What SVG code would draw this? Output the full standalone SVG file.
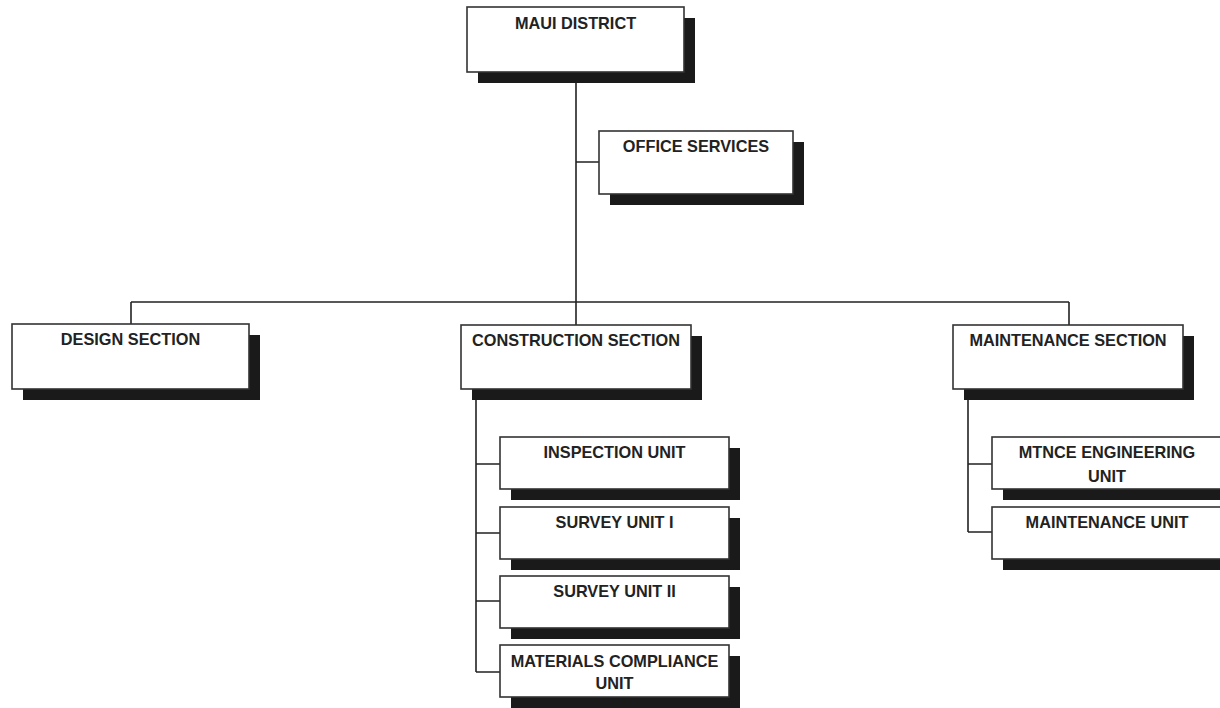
<svg xmlns="http://www.w3.org/2000/svg" width="1220" height="708" viewBox="0 0 1220 708">
<style>
.sh{fill:#1a1a1a;}
.bx{fill:#fff;stroke:#333;stroke-width:1.6;}
.t{font-family:"Liberation Sans",Arial,sans-serif;font-weight:bold;font-size:16.3px;fill:#222;text-anchor:middle;}
.c{fill:none;stroke:#222;stroke-width:1.6;}
</style>
<rect width="1220" height="708" fill="#fff"/>
<g id="connectors">
<path class="c" d="M576 72V325M576 162H599M131 302H1069M131 302V324M1069 302V325M476 389V672M476 464H500M476 533H500M476 601H500M476 672H500M968 389V532M968 464H992M968 532H992"/>
</g>
<g id="maui"><rect class="sh" x="478" y="18" width="217" height="65"/><rect class="bx" x="467" y="7" width="217" height="65"/><text class="t" x="575.5" y="29">MAUI DISTRICT</text></g>
<g id="office"><rect class="sh" x="610" y="142" width="194" height="63"/><rect class="bx" x="599" y="131" width="194" height="63"/><text class="t" x="696" y="152">OFFICE SERVICES</text></g>
<g id="design"><rect class="sh" x="23" y="335" width="237" height="65"/><rect class="bx" x="12" y="324" width="237" height="65"/><text class="t" x="130.5" y="345">DESIGN SECTION</text></g>
<g id="construction"><rect class="sh" x="472" y="336" width="230" height="64"/><rect class="bx" x="461" y="325" width="230" height="64"/><text class="t" x="576" y="346">CONSTRUCTION SECTION</text></g>
<g id="maintenance"><rect class="sh" x="964" y="336" width="230" height="64"/><rect class="bx" x="953" y="325" width="230" height="64"/><text class="t" x="1068" y="346">MAINTENANCE SECTION</text></g>
<g id="inspection"><rect class="sh" x="511" y="448" width="229" height="52"/><rect class="bx" x="500" y="437" width="229" height="52"/><text class="t" x="614.5" y="458">INSPECTION UNIT</text></g>
<g id="survey1"><rect class="sh" x="511" y="518" width="229" height="52"/><rect class="bx" x="500" y="507" width="229" height="52"/><text class="t" x="614.5" y="528">SURVEY UNIT I</text></g>
<g id="survey2"><rect class="sh" x="511" y="587" width="229" height="52"/><rect class="bx" x="500" y="576" width="229" height="52"/><text class="t" x="614.5" y="597">SURVEY UNIT II</text></g>
<g id="materials"><rect class="sh" x="511" y="656" width="229" height="52"/><rect class="bx" x="500" y="645" width="229" height="52"/><text class="t" x="614.5" y="667">MATERIALS COMPLIANCE</text><text class="t" x="614.5" y="689">UNIT</text></g>
<g id="mtnce-eng"><rect class="sh" x="1003" y="448" width="232" height="52"/><rect class="bx" x="992" y="437" width="232" height="52"/><text class="t" x="1107" y="458">MTNCE ENGINEERING</text><text class="t" x="1107" y="482">UNIT</text></g>
<g id="maint-unit"><rect class="sh" x="1003" y="518" width="232" height="52"/><rect class="bx" x="992" y="507" width="232" height="52"/><text class="t" x="1107" y="528">MAINTENANCE UNIT</text></g>
</svg>
